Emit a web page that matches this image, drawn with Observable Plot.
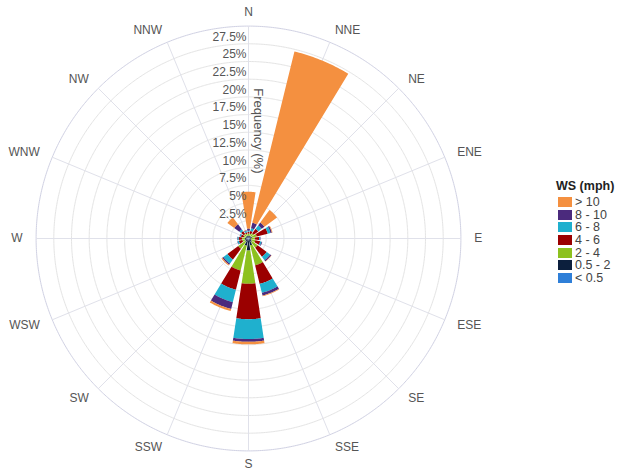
<!DOCTYPE html>
<html><head><meta charset="utf-8">
<script src="https://cdn.jsdelivr.net/npm/d3@7"></script>
<script src="https://cdn.jsdelivr.net/npm/@observablehq/plot@0.6"></script>
<style>
body{margin:0;background:#fff;font-family:"Liberation Sans",Arial,sans-serif;}
#wrap{position:relative;width:618px;height:470px;}
#legend{position:absolute;left:556px;top:178px;color:#444;}
#legend .ttl{font-weight:bold;font-size:12.5px;color:#222;height:18px;line-height:17px;}
#legend .row{display:flex;align-items:center;height:12.6px;font-size:12.5px;}
#legend .sw{width:14px;height:10px;margin-right:3px;margin-left:2px;}
</style></head><body>
<div id="wrap"><div id="chart"></div><div id="legend"></div></div>
<script>
const directions = ["N","NNE","NE","ENE","E","ESE","SE","SSE","S","SSW","SW","WSW","W","WNW","NW","NNW"];
const angles = [0,22.5,45,67.5,90,112.5,135,157.5,180,202.5,225,247.5,270,292.5,315,337.5];
const speedBins = ["< 0.5","0.5 - 2","2 - 4","4 - 6","6 - 8","8 - 10","> 10"];
const binColors = ["#2f7fd8","#0c1f3d","#8dc11f","#9b0000","#1fb0ce","#4b2a7d","#f49040"];
// frequency (%) per direction, one array per speed bin
const freqLt05  = [0.1,0.1,0.1,0.1,0.1,0.1,0.1,0.1,0.2,0.15,0.1,0.1,0.1,0.1,0.1,0.1];
const freq05_2  = [0.3,0.3,0.3,0.4,0.3,0.3,0.5,0.9,1.5,0.9,0.5,0.4,0.4,0.3,0.3,0.3];
const freq2_4   = [0.3,0.3,0.5,0.7,0.5,0.6,1.0,2.9,4.7,3.6,1.2,0.4,0.4,0.3,0.4,0.3];
const freq4_6   = [0.25,0.4,0.8,1.6,0.6,0.7,1.6,2.7,5.0,2.8,1.9,0.5,0.5,0.4,0.5,0.2];
const freq6_8   = [0.15,0.4,0.6,0.4,0.15,0.2,0.6,1.3,2.8,1.8,0.7,0.2,0.15,0.15,0.3,0.2];
const freq8_10  = [0.3,0.8,0.5,0.2,0.05,0.1,0.2,0.4,0.4,1.0,0.2,0.05,0.05,0.05,0.9,0.1];
const freqGt10  = [5.2,24.9,2.2,0.1,0,0,0.05,0.1,0.35,0.3,0.15,0,0,0,1.2,0.05];
const radialTicks = [2.5,5,7.5,10,12.5,15,17.5,20,22.5,25,27.5];
const rMax = 30;

const binValues = [freqLt05,freq05_2,freq2_4,freq4_6,freq6_8,freq8_10,freqGt10];
const segments = [];
directions.forEach((dir,i)=>{
  let cum = 0;
  speedBins.forEach((bin,j)=>{
    const v = binValues[j][i];
    if (v > 0) segments.push({dir, angle: angles[i], bin, r0: cum, r1: cum + v});
    cum += v;
  });
});

const lon = a => 180 - a;
const halfWidth = 8.7;
function wedge(a, r0, r1){
  const ring = [], n = 24;
  for (let k=0;k<=n;k++) ring.push([lon(a-halfWidth+2*halfWidth*k/n), 90-r1]);
  if (r0 > 0) { for (let k=n;k>=0;k--) ring.push([lon(a-halfWidth+2*halfWidth*k/n), 90-r0]); }
  else ring.push([0,90]);
  ring.push(ring[0].slice());
  const g = {type:"Polygon", coordinates:[ring]};
  if (d3.geoArea(g) > 2*Math.PI) ring.reverse();
  return g;
}

const circle = r => d3.geoCircle().center([0,90]).radius(r).precision(0.5)();
const rightDirs = angles.filter(a=>a>0 && a<180);
const leftDirs = angles.filter(a=>a>180);
const midDirs = angles.filter(a=>a===0 || a===180);
const labelR = 31.9;
const txt = {fill:"#555", fontSize:12, y: 90-labelR, x: a=>lon(a), text: a=>directions[angles.indexOf(a)], lineAnchor:"middle"};

const chart = Plot.plot({
  width: 618, height: 470,
  marginLeft: 35.6, marginRight: 157.6, marginTop: 25.6, marginBottom: 19.6,
  style: {fontFamily: "Liberation Sans, Arial, sans-serif", background: "#fff"},
  projection: {type: "azimuthal-equidistant", rotate: [0,-90], domain: circle(rMax), clip: false},
  color: {domain: speedBins, range: binColors},
  marks: [
    Plot.geo(radialTicks, {geometry: r=>circle(r), stroke: "#e4e4e4", fill: "none", strokeWidth: 1}),
    Plot.geo([rMax], {geometry: r=>circle(r), stroke: "#d0d1e3", fill: "none", strokeWidth: 1}),
    Plot.link(angles, {x1: a=>lon(a), y1: 90, x2: a=>lon(a), y2: 90-rMax, stroke: "#e0e1ea", strokeWidth: 1}),
    Plot.geo(segments, {geometry: d=>wedge(d.angle, d.r0, d.r1), fill: "bin", stroke: "none"}),
    Plot.text(radialTicks, {x: lon(0), y: r=>90-r, text: r=>r+"%", textAnchor: "end", dx: -2, dy: -7, fill: "#555", fontSize: 12}),
    Plot.text(["Frequency (%)"], {x: lon(0), y: 90-15.2, text: d=>d, rotate: 90, dx: 10, fill: "#555", fontSize: 13}),
    Plot.text(rightDirs, {...txt, textAnchor: "start"}),
    Plot.text(leftDirs, {...txt, textAnchor: "end"}),
    Plot.text(midDirs, {...txt, textAnchor: "middle"})
  ]
});
document.getElementById("chart").appendChild(chart);

const lg = document.getElementById("legend");
const t = document.createElement("div"); t.className="ttl"; t.textContent="WS (mph)"; lg.appendChild(t);
for (let j=speedBins.length-1;j>=0;j--){
  const row = document.createElement("div"); row.className="row";
  const sw = document.createElement("div"); sw.className="sw"; sw.style.background = binColors[j];
  const lab = document.createElement("span"); lab.textContent = speedBins[j];
  row.appendChild(sw); row.appendChild(lab); lg.appendChild(row);
}
</script>
</body></html>
